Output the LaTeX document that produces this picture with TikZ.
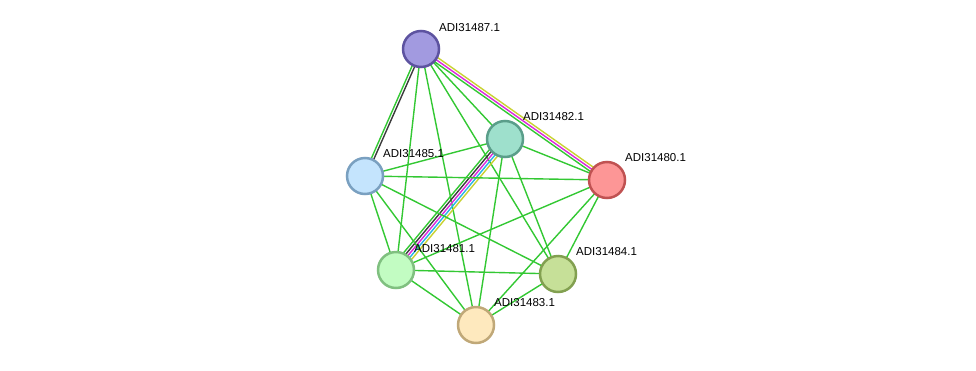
\documentclass[tikz,border=0pt]{standalone}
\usepackage{fontspec}
\setmainfont{Liberation Sans}
\usetikzlibrary{calc,backgrounds}
\definecolor{eg}{RGB}{51,200,51}
\definecolor{ek}{RGB}{60,60,60}
\definecolor{em}{RGB}{220,40,220}
\definecolor{ec}{RGB}{40,180,230}
\definecolor{ey}{RGB}{200,210,50}
\tikzset{
  prot/.style={circle,minimum size=36pt,inner sep=0pt,line width=2.5pt},
  lbl/.style={anchor=west,font=\fontsize{11.5pt}{12pt}\selectfont,inner sep=0pt,text=black},
  edge/.style={line width=1.4pt,eg},
}
\newcommand\pedge[4]{\draw[edge,#4] ($(#1.center)!#3!90:(#2.center)$) -- ($(#2.center)!#3!-90:(#1.center)$);}
\begin{document}
\begin{tikzpicture}[x=1pt,y=-1pt]
\useasboundingbox (0,0) rectangle (976,370);
\node[prot,fill={rgb,255:red,162;green,154;blue,224},draw={rgb,255:red,93;green,83;blue,160}] (p487) at (421,49) {};
\node[prot,fill={rgb,255:red,158;green,224;blue,204},draw={rgb,255:red,90;green,158;blue,138}] (p482) at (505,139) {};
\node[prot,fill={rgb,255:red,196;green,228;blue,253},draw={rgb,255:red,122;green,160;blue,192}] (p485) at (365,176) {};
\node[prot,fill={rgb,255:red,253;green,150;blue,150},draw={rgb,255:red,192;green,82;blue,82}] (p480) at (607,180) {};
\node[prot,fill={rgb,255:red,194;green,252;blue,194},draw={rgb,255:red,128;green,192;blue,128}] (p481) at (396,270) {};
\node[prot,fill={rgb,255:red,198;green,224;blue,152},draw={rgb,255:red,130;green,160;blue,80}] (p484) at (558,274) {};
\node[prot,fill={rgb,255:red,254;green,233;blue,190},draw={rgb,255:red,192;green,168;blue,120}] (p483) at (476,325) {};
\node[lbl] (l487) at (439,28) {ADI31487.1};
\node[lbl] (l482) at (523,117) {ADI31482.1};
\node[lbl] (l485) at (383,154) {ADI31485.1};
\node[lbl] (l480) at (625,158) {ADI31480.1};
\node[lbl] (l481) at (414,249) {ADI31481.1};
\node[lbl] (l484) at (576,252) {ADI31484.1};
\node[lbl] (l483) at (494,303) {ADI31483.1};
\begin{pgfonlayer}{background}
% 487 edges
\pedge{p487}{p485}{-1.3pt}{eg}
\pedge{p487}{p485}{1.3pt}{ek}
\draw[edge] (p487.center) -- (p481.center);
\draw[edge] (p487.center) -- (p483.center);
\draw[edge] (p487.center) -- (p484.center);
\draw[edge] (p487.center) -- (p482.center);
\pedge{p487}{p480}{-2.6pt}{eg}
\pedge{p487}{p480}{0pt}{em}
\pedge{p487}{p480}{2.6pt}{ey}
% 482 edges
\draw[edge] (p482.center) -- (p485.center);
\draw[edge] (p482.center) -- (p480.center);
\draw[edge] (p482.center) -- (p483.center);
\draw[edge] (p482.center) -- (p484.center);
\pedge{p482}{p481}{-5.2pt}{eg}
\pedge{p482}{p481}{-2.6pt}{ek}
\pedge{p482}{p481}{0pt}{em}
\pedge{p482}{p481}{2.6pt}{ec}
\pedge{p482}{p481}{5.2pt}{ey}
% 485 edges
\draw[edge] (p485.center) -- (p480.center);
\draw[edge] (p485.center) -- (p481.center);
\draw[edge] (p485.center) -- (p483.center);
\draw[edge] (p485.center) -- (p484.center);
% 480 edges
\draw[edge] (p480.center) -- (p481.center);
\draw[edge] (p480.center) -- (p483.center);
\draw[edge] (p480.center) -- (p484.center);
% others
\draw[edge] (p481.center) -- (p484.center);
\draw[edge] (p481.center) -- (p483.center);
\draw[edge] (p484.center) -- (p483.center);
\end{pgfonlayer}
\end{tikzpicture}
\end{document}
